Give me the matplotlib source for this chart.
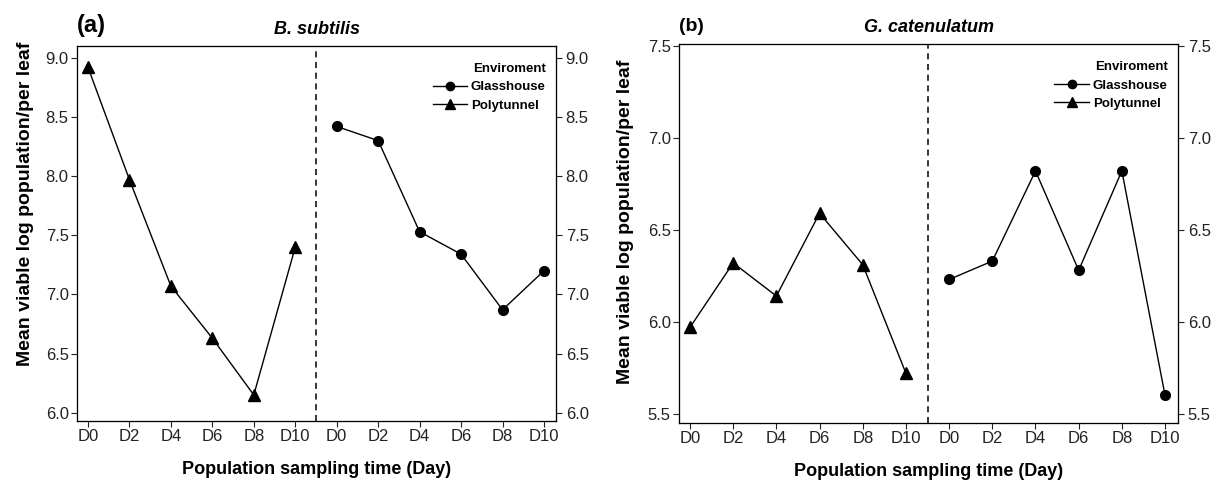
import matplotlib
matplotlib.use("Agg")
import matplotlib.pyplot as plt
from matplotlib.lines import Line2D

plt.rcParams["font.family"] = ["Liberation Sans", "DejaVu Sans"]

DAYS = ["D0", "D2", "D4", "D6", "D8", "D10"]

# (a) B. subtilis
A_POLY = [8.92, 7.97, 7.07, 6.63, 6.15, 7.40]
A_GLASS = [8.42, 8.30, 7.53, 7.34, 6.87, 7.20]
A_TICKS = [6.0, 6.5, 7.0, 7.5, 8.0, 8.5, 9.0]

# (b) G. catenulatum
B_POLY = [5.97, 6.32, 6.14, 6.59, 6.31, 5.72]
B_GLASS = [6.23, 6.33, 6.82, 6.28, 6.82, 5.60]
B_TICKS = [5.5, 6.0, 6.5, 7.0, 7.5]


def draw_panel(fig, rect, poly, glass, yticks, ylim, xlim, title, tag,
               tag_size, ylab_y):
    ax = fig.add_axes(rect)
    n = len(DAYS)
    x_poly = list(range(n))
    x_glass = [i + n for i in range(n)]
    ax.plot(x_poly, poly, color="black", lw=1.0, marker="^", ms=8)
    ax.plot(x_glass, glass, color="black", lw=1.0, marker="o", ms=7)
    ax.axvline(n - 0.5, color="black", lw=1.1, ls=(0, (4, 3)))

    ax.set_xlim(*xlim)
    ax.set_ylim(*ylim)
    ax.set_xticks(x_poly + x_glass)
    ax.set_xticklabels(DAYS + DAYS)
    ax.set_yticks(yticks)
    ax.set_yticklabels([f"{v:.1f}" for v in yticks])
    ax.tick_params(direction="out", length=4, width=0.8, labelsize=12,
                   colors="#222222", pad=2)
    for s in ax.spines.values():
        s.set_linewidth(0.9)
        s.set_color("#333333")

    ax2 = ax.twinx()
    ax2.set_ylim(*ylim)
    ax2.set_yticks(yticks)
    ax2.set_yticklabels([f"{v:.1f}" for v in yticks])
    ax2.tick_params(direction="out", length=4, width=0.8, labelsize=12,
                    colors="#222222", pad=3)

    ax.set_ylabel("Mean viable log population/per leaf", fontsize=14,
                  fontweight="bold")
    ax.yaxis.set_label_coords(-0.09, ylab_y)
    ax.set_xlabel("Population sampling time (Day)", fontsize=13,
                  fontweight="bold", labelpad=12)
    ax.set_title(title, fontsize=13, fontweight="bold", style="italic", pad=9)
    ax.text(0.0, 1.025, tag, transform=ax.transAxes, fontsize=tag_size,
            fontweight="bold", ha="left", va="bottom")

    handles = [
        Line2D([], [], color="black", lw=1.0, marker="o", ms=6),
        Line2D([], [], color="black", lw=1.0, marker="^", ms=7),
    ]
    leg = ax.legend(handles, ["Glasshouse", "Polytunnel"], title="Enviroment",
                    loc="upper right", bbox_to_anchor=(0.995, 0.975),
                    frameon=False, prop={"weight": "bold", "size": 9.5},
                    handlelength=2.6, handletextpad=0.3, labelspacing=0.45,
                    borderaxespad=0.2)
    leg.get_title().set_fontweight("bold")
    leg.get_title().set_fontsize(9.5)
    leg._legend_box.align = "right"
    return ax


fig = plt.figure(figsize=(12.15, 4.82), dpi=100)
draw_panel(fig, [77 / 1215, 1 - 421 / 482, 479 / 1215, 375 / 482],
           A_POLY, A_GLASS, A_TICKS, (5.93, 9.10), (-0.265, 11.29),
           "B. subtilis", "(a)", 17, 0.58)
draw_panel(fig, [679 / 1215, 1 - 423 / 482, 499 / 1215, 379 / 482],
           B_POLY, B_GLASS, B_TICKS, (5.45, 7.51), (-0.255, 11.30),
           "G. catenulatum", "(b)", 14, 0.53)
fig.savefig("out.png", dpi=100)
